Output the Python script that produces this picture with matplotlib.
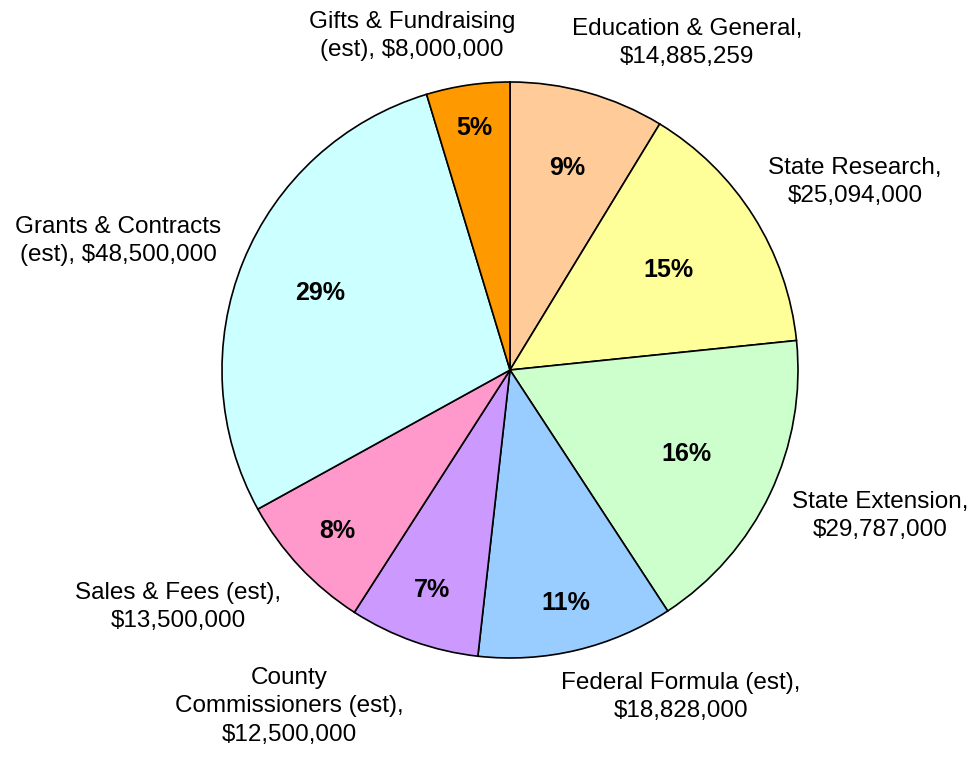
import numpy as np
import matplotlib; matplotlib.use('Agg')
import matplotlib.pyplot as plt

plt.rcParams['font.family'] = ['Liberation Sans', 'DejaVu Sans']

# data
categories = ['Education & General,', 'State Research,', 'State Extension,',
              'Federal Formula (est),', 'County\nCommissioners (est),',
              'Sales & Fees (est),', 'Grants & Contracts\n(est),',
              'Gifts & Fundraising\n(est),']
amounts = [14885259, 25094000, 29787000, 18828000, 12500000,
           13500000, 48500000, 8000000]
pct_labels = ['9%', '15%', '16%', '11%', '7%', '8%', '29%', '5%']
colors = ['#FFCC99', '#FFFF99', '#CCFFCC', '#99CCFF', '#CC99FF',
          '#FF99CC', '#CCFFFF', '#FF9900']

# layout: separator between name and amount, label centres (pie radius = 1),
# percent-label radii
label_sep = ['\n', '\n', '\n', '\n', '\n', '\n', ' ', ' ']
label_pos = [(0.615, 1.135), (1.198, 0.653), (1.285, -0.507), (0.594, -1.135),
             (-0.767, -1.167), (-1.153, -0.823), (-1.361, 0.448), (-0.34, 1.16)]
pct_r = [0.73, 0.65, 0.68, 0.83, 0.81, 0.82, 0.71, 0.85]

fig = plt.figure(figsize=(9.8, 7.57), dpi=100)
ax = fig.add_axes([222/980, 99/757, 576/980, 576/757])
wedges, _ = ax.pie(amounts, colors=colors, startangle=90, counterclock=False,
                   wedgeprops=dict(edgecolor='black', linewidth=1.2))
ax.set_xlim(-1, 1); ax.set_ylim(-1, 1)
ax.set_aspect('equal')
ax.axis('off')

for w, cat, sep, amt, pct, pos, r in zip(wedges, categories, label_sep, amounts,
                                         pct_labels, label_pos, pct_r):
    mid = np.deg2rad((w.theta1 + w.theta2) / 2)
    ax.text(r * np.cos(mid), r * np.sin(mid), pct, ha='center', va='center',
            fontsize=18, fontweight='bold')
    ax.text(pos[0], pos[1], f'{cat}{sep}${amt:,.0f}', ha='center', va='center',
            fontsize=17.5, linespacing=1.38, clip_on=False)

fig.savefig('out.png', dpi=100)
